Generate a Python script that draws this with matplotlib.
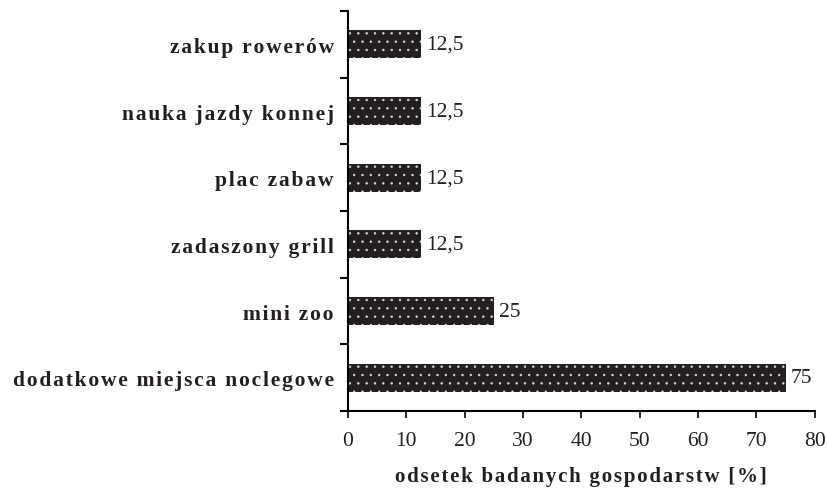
import matplotlib.pyplot as plt
import numpy as np

plt.rcParams['font.family'] = ['Liberation Serif', 'DejaVu Serif']
plt.rcParams['hatch.linewidth'] = 0.5

categories = ['dodatkowe miejsca noclegowe', 'mini zoo', 'zadaszony grill',
              'plac zabaw', 'nauka jazdy konnej', 'zakup rowerów']
values = [75, 25, 12.5, 12.5, 12.5, 12.5]
value_labels = ['75', '25', '12,5', '12,5', '12,5', '12,5']
xticks = [0, 10, 20, 30, 40, 50, 60, 70, 80]


def spaced(s):
    # imitate the letter spacing of the original labels
    return '\u200a'.join(s)


fig = plt.figure(figsize=(8.28, 5.02), dpi=100)
ax = fig.add_axes([0.420, 0.179, 0.564, 0.797])

y = np.arange(len(categories))
ax.barh(y, values, height=0.42, color='#231f20', edgecolor='#d8d8d8',
        hatch='..', linewidth=0)

for yi, v, lab in zip(y, values, value_labels):
    ax.text(v + 0.9, yi, lab, va='center', ha='left', fontsize=15.5, color='#231f20')

ax.set_xlim(0, 80)
ax.set_ylim(-0.5, len(categories) - 0.5)
ax.set_xticks(xticks)
ax.set_xticklabels([str(t) for t in xticks], fontsize=15.5, color='#231f20')
ax.set_yticks(np.arange(-0.5, len(categories), 1.0))
ax.set_yticklabels([])
ax.set_yticks(y, minor=True)
ax.set_yticklabels([spaced(c) for c in categories], minor=True,
                   fontsize=15.5, fontweight='bold', color='#231f20')
ax.tick_params(axis='y', which='minor', length=0, pad=10)
ax.tick_params(axis='y', which='major', length=6, width=1.5, direction='out')
ax.tick_params(axis='x', length=5, width=1.2, direction='out', pad=9)

for side in ['top', 'right']:
    ax.spines[side].set_visible(False)
ax.spines['left'].set_linewidth(1.5)
ax.spines['bottom'].set_linewidth(1.5)

ax.set_xlabel(spaced('odsetek badanych gospodarstw [%]'), fontsize=15,
              fontweight='bold', color='#231f20', labelpad=12)

fig.savefig('out.png', dpi=100)
